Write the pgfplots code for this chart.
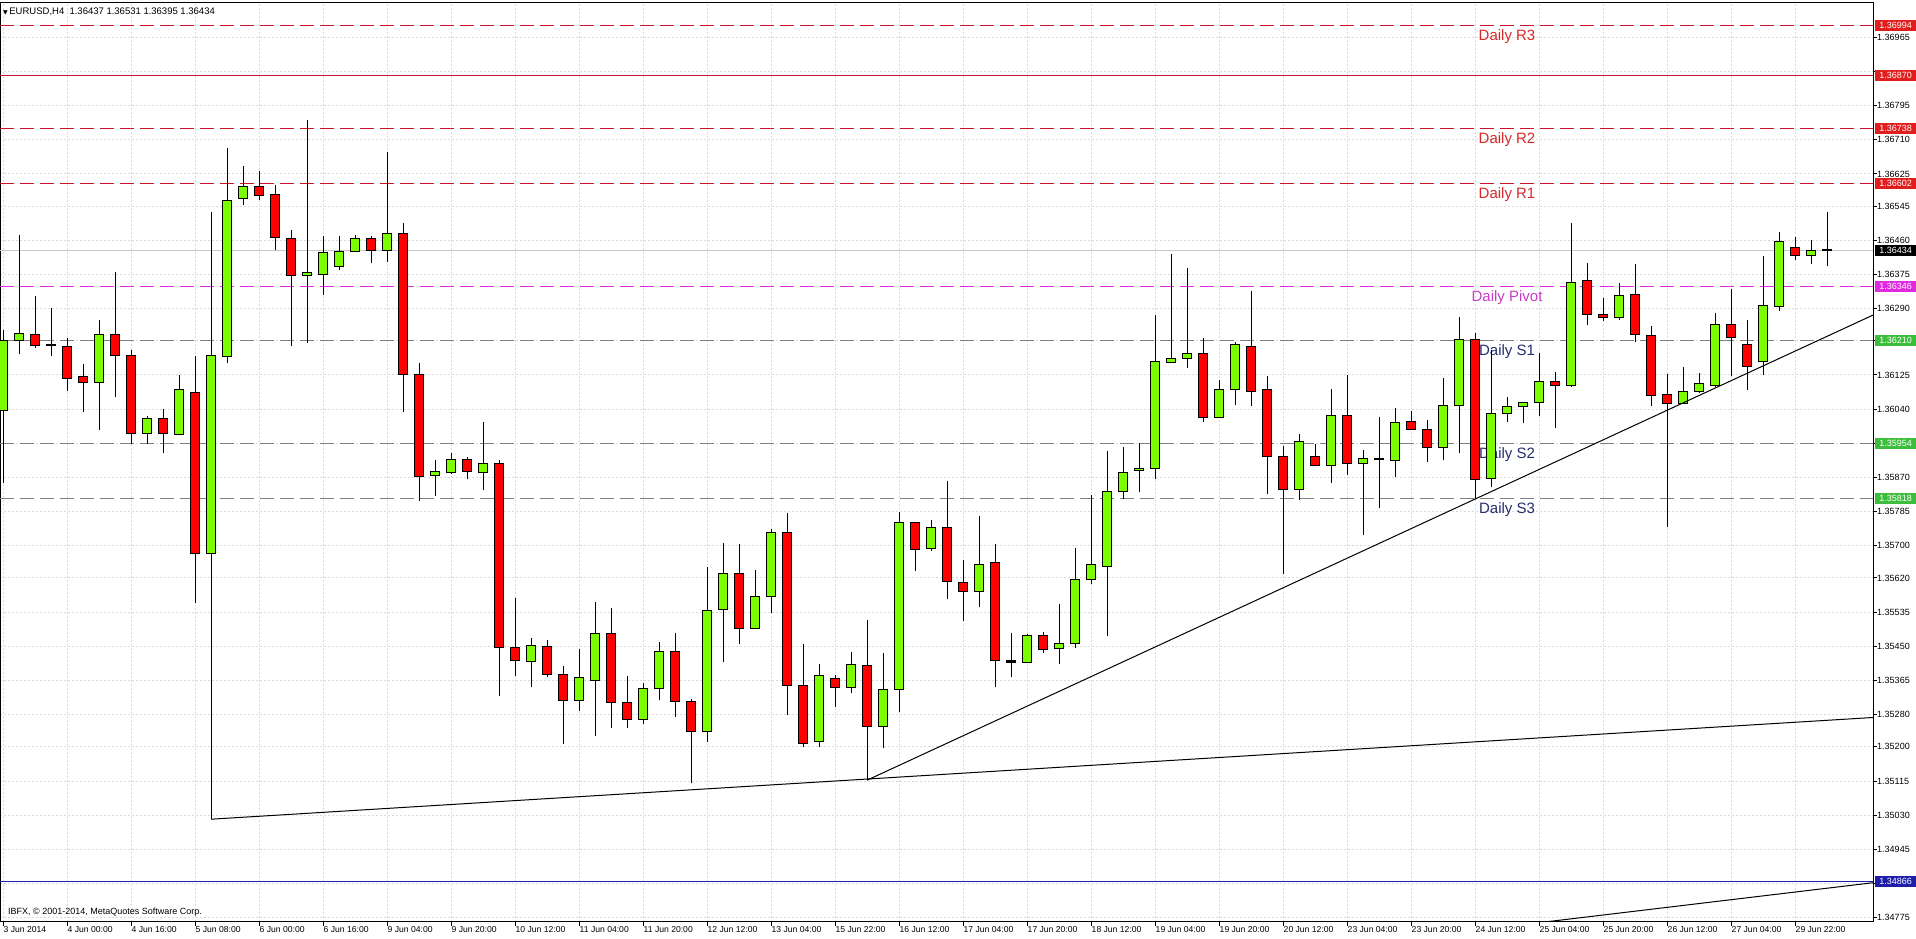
\documentclass[border=0pt]{standalone}
\usepackage{fontspec}
\setmainfont{Liberation Sans}
\newfontfamily\symfont{DejaVu Sans}
\usepackage{pgfplots}
\usepackage{pgfplotstable}
\pgfplotsset{compat=1.18}

\definecolor{bull}{RGB}{124,252,0}
\definecolor{bear}{RGB}{255,0,0}
\definecolor{resline}{RGB}{200,20,40}
\definecolor{restext}{RGB}{215,40,40}
\definecolor{pivline}{RGB}{225,40,225}
\definecolor{pivtext}{RGB}{200,60,200}
\definecolor{supline}{RGB}{128,128,128}
\definecolor{suptext}{RGB}{35,45,110}
\definecolor{suplabel}{RGB}{60,190,60}
\definecolor{resbox}{RGB}{225,30,30}
\definecolor{blueline}{RGB}{30,30,170}
\definecolor{gridc}{RGB}{218,218,218}

% EURUSD H4 candles: index o h l c
\pgfplotstableread{
x o h l c
0 1.36036 1.36238 1.35857 1.36210
1 1.36210 1.36474 1.36176 1.36228
6 1.36106 1.36262 1.35988 1.36225
9 1.35979 1.36024 1.35953 1.36016
11 1.35977 1.36124 1.35975 1.36088
13 1.35680 1.36531 1.35020 1.36173
14 1.36170 1.36689 1.36154 1.36559
15 1.36563 1.36645 1.36547 1.36593
19 1.36373 1.36760 1.36204 1.36379
20 1.36375 1.36471 1.36324 1.36430
21 1.36395 1.36470 1.36386 1.36433
22 1.36433 1.36473 1.36433 1.36464
24 1.36435 1.36679 1.36406 1.36477
27 1.35876 1.35914 1.35825 1.35886
28 1.35883 1.35930 1.35879 1.35914
30 1.35883 1.36009 1.35838 1.35906
33 1.35413 1.35471 1.35348 1.35452
36 1.35316 1.35444 1.35288 1.35373
37 1.35365 1.35560 1.35228 1.35481
40 1.35268 1.35358 1.35257 1.35345
41 1.35345 1.35460 1.35316 1.35436
44 1.35238 1.35648 1.35213 1.35540
45 1.35542 1.35706 1.35410 1.35632
47 1.35495 1.35640 1.35495 1.35575
48 1.35573 1.35743 1.35532 1.35734
51 1.35213 1.35406 1.35199 1.35377
53 1.35347 1.35435 1.35333 1.35405
55 1.35250 1.35434 1.35196 1.35343
56 1.35343 1.35783 1.35286 1.35758
58 1.35693 1.35764 1.35687 1.35745
61 1.35586 1.35773 1.35547 1.35654
64 1.35410 1.35480 1.35408 1.35476
66 1.35445 1.35555 1.35406 1.35457
67 1.35457 1.35695 1.35447 1.35617
68 1.35617 1.35826 1.35605 1.35654
69 1.35648 1.35936 1.35476 1.35836
70 1.35835 1.35947 1.35816 1.35883
71 1.35887 1.35957 1.35833 1.35893
72 1.35893 1.36273 1.35865 1.36159
73 1.36156 1.36425 1.36156 1.36165
74 1.36166 1.36392 1.36143 1.36179
76 1.36019 1.36112 1.36019 1.36089
77 1.36089 1.36208 1.36050 1.36200
81 1.35841 1.35977 1.35814 1.35959
83 1.35901 1.36089 1.35857 1.36025
85 1.35904 1.35938 1.35727 1.35918
87 1.35912 1.36042 1.35870 1.36007
90 1.35945 1.36117 1.35913 1.36048
91 1.36048 1.36268 1.35930 1.36214
93 1.35868 1.36187 1.35846 1.36030
94 1.36030 1.36071 1.36009 1.36046
95 1.36046 1.36058 1.36005 1.36056
96 1.36056 1.36180 1.36024 1.36110
98 1.36100 1.36504 1.36096 1.36356
101 1.36268 1.36355 1.36262 1.36323
105 1.36053 1.36146 1.36053 1.36085
106 1.36085 1.36131 1.36080 1.36105
107 1.36100 1.36280 1.36096 1.36251
110 1.36158 1.36421 1.36125 1.36297
111 1.36295 1.36480 1.36285 1.36458
113 1.36423 1.36461 1.36401 1.36434
}\bulltab

\pgfplotstableread{
x o h l c
2 1.36225 1.36322 1.36193 1.36198
4 1.36196 1.36217 1.36084 1.36116
5 1.36120 1.36153 1.36034 1.36106
7 1.36225 1.36381 1.36070 1.36173
8 1.36173 1.36188 1.35953 1.35979
10 1.36016 1.36040 1.35930 1.35979
12 1.36082 1.36172 1.35557 1.35680
16 1.36593 1.36632 1.36561 1.36572
17 1.36573 1.36597 1.36435 1.36466
18 1.36465 1.36486 1.36196 1.36373
23 1.36465 1.36471 1.36403 1.36435
25 1.36477 1.36504 1.36034 1.36127
26 1.36125 1.36155 1.35812 1.35872
29 1.35914 1.35922 1.35865 1.35886
31 1.35906 1.35914 1.35326 1.35448
32 1.35448 1.35569 1.35376 1.35414
34 1.35450 1.35466 1.35373 1.35380
35 1.35380 1.35401 1.35206 1.35316
38 1.35481 1.35545 1.35248 1.35310
39 1.35311 1.35375 1.35246 1.35268
42 1.35436 1.35484 1.35275 1.35313
43 1.35313 1.35318 1.35109 1.35238
46 1.35632 1.35704 1.35457 1.35495
49 1.35734 1.35781 1.35279 1.35352
50 1.35352 1.35455 1.35199 1.35209
52 1.35370 1.35379 1.35300 1.35347
54 1.35403 1.35515 1.35117 1.35250
57 1.35758 1.35760 1.35638 1.35691
59 1.35745 1.35862 1.35567 1.35611
60 1.35609 1.35665 1.35514 1.35586
62 1.35659 1.35704 1.35348 1.35414
65 1.35478 1.35486 1.35433 1.35443
75 1.36179 1.36216 1.36007 1.36019
78 1.36197 1.36335 1.36048 1.36085
79 1.36088 1.36123 1.35828 1.35922
80 1.35923 1.35948 1.35629 1.35841
82 1.35923 1.35953 1.35901 1.35901
84 1.36025 1.36125 1.35876 1.35904
88 1.36009 1.36036 1.35990 1.35990
89 1.35990 1.36013 1.35909 1.35945
92 1.36214 1.36229 1.35816 1.35865
97 1.36110 1.36133 1.35994 1.36100
99 1.36359 1.36404 1.36249 1.36276
100 1.36276 1.36316 1.36260 1.36268
102 1.36326 1.36400 1.36208 1.36226
103 1.36223 1.36247 1.36048 1.36075
104 1.36077 1.36127 1.35746 1.36055
108 1.36251 1.36338 1.36123 1.36219
109 1.36201 1.36262 1.36088 1.36146
112 1.36443 1.36467 1.36411 1.36423
}\beartab

\pgfplotstableread{
x o h l c
3 1.36201 1.36291 1.36173 1.36199
63 1.35415 1.35482 1.35373 1.35410
86 1.35917 1.36021 1.35793 1.35915
114 1.36437 1.36531 1.36395 1.36434
}\dojitab

\pgfplotsset{
  wick/.style={forget plot, only marks, mark size=0pt, mark options={draw=none, fill=none},
    error bars/.cd, y dir=plus, y explicit, error mark=none,
    error bar style={line width=1pt, draw=black}},
  body/.style 2 args={forget plot, only marks, mark size=0pt, mark options={draw=none, fill=none},
    error bars/.cd, y dir=plus, y explicit, error mark=none,
    error bar style={line width=#1, draw=#2}},
  level/.style={forget plot, no markers, line width=1pt},
}

\newcommand\wicks[1]{\addplot[wick] table[x=x, y=l, y error expr={\thisrow{h}-\thisrow{l}}] {#1};}
\newcommand\bodyout[1]{\addplot[body={10pt}{black}, error bar style={shorten <=-0.5pt, shorten >=-0.5pt}] table[x=x, y expr={min(\thisrow{o},\thisrow{c})}, y error expr={abs(\thisrow{c}-\thisrow{o})}] {#1};}
\newcommand\bodyin[2]{\addplot[body={8pt}{#2}, error bar style={shorten <=0.5pt, shorten >=0.5pt}] table[x=x, y expr={min(\thisrow{o},\thisrow{c})}, y error expr={abs(\thisrow{c}-\thisrow{o})}] {#1};}

\begin{document}
\begin{tikzpicture}
\useasboundingbox (0pt,-17pt) rectangle (1916pt,922pt);
\begin{axis}[
  at={(0pt,0pt)}, anchor=south west,
  scale only axis, width=1873pt, height=919pt,
  xmin=-0.1875, xmax=116.875,
  ymin=1.347643, ymax=1.370503,
  clip mode=individual,
  axis line style={line width=1pt, black},
  tick align=outside, major tick length=4pt,
  tick style={black, line width=1pt},
  xtick pos=bottom, ytick pos=right, yticklabel pos=right,
  xtick={0,4,...,112},
  xticklabels={3 Jun 2014,4 Jun 00:00,4 Jun 16:00,5 Jun 08:00,6 Jun 00:00,6 Jun 16:00,9 Jun 04:00,9 Jun 20:00,10 Jun 12:00,11 Jun 04:00,11 Jun 20:00,12 Jun 12:00,13 Jun 04:00,15 Jun 22:00,16 Jun 12:00,17 Jun 04:00,17 Jun 20:00,18 Jun 12:00,19 Jun 04:00,19 Jun 20:00,20 Jun 12:00,23 Jun 04:00,23 Jun 20:00,24 Jun 12:00,25 Jun 04:00,25 Jun 20:00,26 Jun 12:00,27 Jun 04:00,29 Jun 22:00},
  ytick={1.34775,1.34860,1.34945,1.35030,1.35115,1.35200,1.35280,1.35365,1.35450,1.35535,1.35620,1.35700,1.35785,1.35870,1.35955,1.36040,1.36125,1.36210,1.36290,1.36375,1.36460,1.36545,1.36625,1.36710,1.36795,1.36880,1.36965},
  yticklabels={1.34775,,1.34945,1.35030,1.35115,1.35200,1.35280,1.35365,1.35450,1.35535,1.35620,1.35700,1.35785,1.35870,,1.36040,1.36125,,1.36290,1.36375,1.36460,1.36545,1.36625,1.36710,1.36795,,1.36965},
  grid=major,
  major grid style={gridc, line width=1pt, dash pattern=on 2pt off 2pt},
  xticklabel style={font=\fontsize{8.6}{10}\selectfont, anchor=north west, inner sep=0pt, xshift=0.5pt},
  yticklabel style={font=\fontsize{9}{10}\selectfont, anchor=west, inner sep=0pt},
]
% pivot levels
\addplot[level, resline, dash pattern=on 14pt off 6pt] coordinates {(-0.1875,1.36994) (116.875,1.36994)};
\addplot[level, resline] coordinates {(-0.1875,1.36870) (116.875,1.36870)};
\addplot[level, resline, dash pattern=on 14pt off 6pt] coordinates {(-0.1875,1.36738) (116.875,1.36738)};
\addplot[level, resline, dash pattern=on 14pt off 6pt] coordinates {(-0.1875,1.36602) (116.875,1.36602)};
\addplot[level, gray!45] coordinates {(-0.1875,1.36434) (116.875,1.36434)};
\addplot[level, pivline, dash pattern=on 14pt off 6pt] coordinates {(-0.1875,1.36346) (116.875,1.36346)};
\addplot[level, supline, dash pattern=on 14pt off 6pt] coordinates {(-0.1875,1.36210) (116.875,1.36210)};
\addplot[level, supline, dash pattern=on 14pt off 6pt] coordinates {(-0.1875,1.35954) (116.875,1.35954)};
\addplot[level, supline, dash pattern=on 14pt off 6pt] coordinates {(-0.1875,1.35818) (116.875,1.35818)};
\addplot[level, blueline] coordinates {(-0.1875,1.34866) (116.875,1.34866)};

\begin{scope}[every node/.style={anchor=base, inner sep=0pt, font=\fontsize{15}{18}\selectfont}]
\node[text=restext, yshift=-15pt] at (axis cs:94,1.36994) {Daily R3};
\node[text=restext, yshift=-15pt] at (axis cs:94,1.36738) {Daily R2};
\node[text=restext, yshift=-15pt] at (axis cs:94,1.36602) {Daily R1};
\node[text=pivtext, yshift=-15pt] at (axis cs:94,1.36346) {Daily Pivot};
\node[text=suptext, yshift=-15pt] at (axis cs:94,1.36210) {Daily S1};
\node[text=suptext, yshift=-15pt] at (axis cs:94,1.35954) {Daily S2};
\node[text=suptext, yshift=-15pt] at (axis cs:94,1.35818) {Daily S3};
\end{scope}

% candles
\wicks{\bulltab}
\wicks{\beartab}
\wicks{\dojitab}
\bodyout{\bulltab}
\bodyout{\beartab}
\bodyout{\dojitab}
\bodyin{\bulltab}{bull}
\bodyin{\beartab}{bear}

% trend lines
\addplot[level, black] coordinates {(13,1.35020) (116.875,1.35273)};
\addplot[level, black] coordinates {(54,1.35117) (116.875,1.36274)};
\addplot[level, black] coordinates {(96.5,1.34765) (116.875,1.34862)};

% price boxes on the right scale
\begin{scope}[every node/.style={anchor=west, inner sep=0pt, minimum width=41pt, minimum height=11pt, text=white, font=\fontsize{9}{10}\selectfont, xshift=2pt}]
\node[fill=resbox] at (axis cs:116.875,1.36994) {1.36994};
\node[fill=resbox] at (axis cs:116.875,1.36870) {1.36870};
\node[fill=resbox] at (axis cs:116.875,1.36738) {1.36738};
\node[fill=resbox] at (axis cs:116.875,1.36602) {1.36602};
\node[fill=black] at (axis cs:116.875,1.36434) {1.36434};
\node[fill=pivline] at (axis cs:116.875,1.36346) {1.36346};
\node[fill=suplabel] at (axis cs:116.875,1.36210) {1.36210};
\node[fill=suplabel] at (axis cs:116.875,1.35954) {1.35954};
\node[fill=suplabel] at (axis cs:116.875,1.35818) {1.35818};
\node[fill=blueline] at (axis cs:116.875,1.34866) {1.34866};
\end{scope}

\node[anchor=west, inner sep=0pt, font=\fontsize{9.5}{11}\selectfont] at (rel axis cs:0,1) [xshift=3pt, yshift=-8.7pt]
  {{\symfont\fontsize{6}{6}\selectfont ▼}\,EURUSD,H4\ \ 1.36437 1.36531 1.36395 1.36434};
\node[anchor=west, inner sep=0pt, font=\fontsize{9}{10}\selectfont] at (rel axis cs:0,0) [xshift=8pt, yshift=10pt]
  {IBFX, © 2001-2014, MetaQuotes Software Corp.};
\end{axis}
\end{tikzpicture}
\end{document}
